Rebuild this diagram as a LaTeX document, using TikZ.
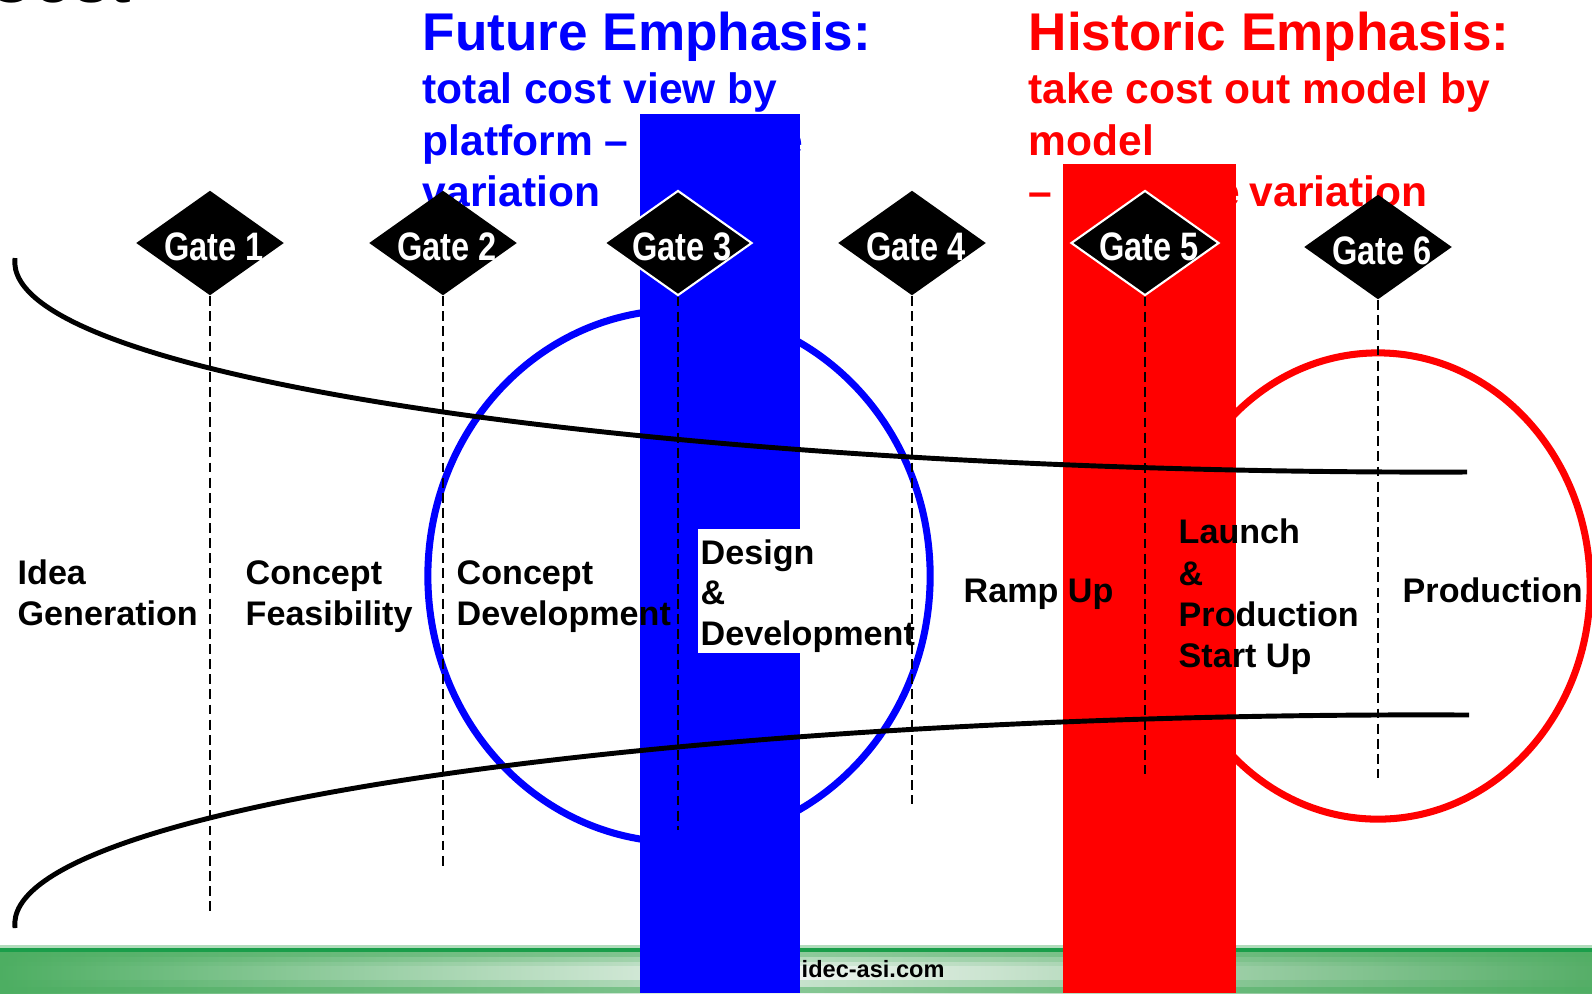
\documentclass[tikz,border=0pt]{standalone}
\usepackage{fontspec}
\setmainfont{Liberation Sans}
\newfontfamily\gatefont[FakeStretch=0.82]{Liberation Sans}
\usetikzlibrary{shapes.geometric}
\definecolor{pblue}{RGB}{0,0,255}
\definecolor{pred}{RGB}{255,0,0}
\definecolor{barA}{HTML}{4DAE62}
\definecolor{barMid}{HTML}{F0F5F1}
\definecolor{barB}{HTML}{56AE68}
\definecolor{barDark}{HTML}{1A9E4A}
\definecolor{barLight}{HTML}{B2DCBC}
\newcommand{\gatetext}[1]{\makebox[0.9cm][c]{\hspace*{2.2pt}#1}}
\begin{document}
\begin{tikzpicture}[x=0.01cm,y=-0.01cm,
  txt/.style={inner sep=0pt, font=\bfseries\fontsize{9.7}{11.6}\selectfont, anchor=base west},
  head/.style={inner sep=0pt, font=\bfseries\fontsize{15.1}{18}\selectfont, anchor=base west},
  sub/.style={inner sep=0pt, font=\bfseries\fontsize{12.1}{14.6}\selectfont, anchor=base west},
  gate/.style={diamond, aspect=1.43, fill=black, inner sep=0pt, minimum width=1.48cm, minimum height=1.05cm,
    text height=10pt, text depth=0pt,
    font=\gatefont\bfseries\fontsize{11.3}{13}\selectfont, text=white},
  gatewhite/.style={gate, draw=white, line width=0.6pt},
  gateline/.style={dash pattern=on 2.8pt off 1.5pt, line width=0.75pt},
  curve/.style={line width=1.4pt},
  band/.style={line width=2pt}
]
\useasboundingbox (0,0) rectangle (1592,993);

% bottom bar
\shade[left color=barA, right color=barB, middle color=barMid] (0,945) rectangle (1592,993);
\fill[barLight] (0,945) rectangle (1592,948);
\fill[barDark] (0,948) rectangle (1592,952);
\fill[barA, opacity=0.6] (0,952) rectangle (1592,957);
\fill[barA, opacity=0.35] (0,957) rectangle (1592,962);
\fill[barA, opacity=0.15] (0,962) rectangle (1592,966);
\fill[barA, opacity=0.25] (0,980) rectangle (1592,987);
\fill[barA, opacity=0.65] (0,987) rectangle (1592,993);

% ellipses
\draw[pblue, band] (679,576) ellipse [x radius=2.51cm, y radius=2.66cm];
\draw[pred, band] (1378,586) ellipse [x radius=2.12cm, y radius=2.33cm];

% header texts
\node[inner sep=0pt, anchor=base west, font=\bfseries\fontsize{18.5}{20}\selectfont] (cost) at (-14,2) {Cost};
\node[head, text=pblue] (fut) at (422,50) {Future Emphasis:};
\node[sub, text=pblue] (f1) at (422,103) {total cost view by};
\node[sub, text=pblue] (f2) at (422,155) {platform –};
\node[sub, text=pblue, anchor=base east] (f2b) at (804,155) {reduce};
\node[sub, text=pblue] (f3) at (422,206) {variation};

\node[head, text=pred] (his) at (1028,50) {Historic Emphasis:};
\node[sub, text=pred] (h1) at (1028,103) {take cost out model by};
\node[sub, text=pred] (h2) at (1028,155) {model};
\node[sub, text=pred] (h3) at (1028,206) {–};
\node[sub, text=pred, anchor=base east] (h3b) at (1241,206) {reduce};
\node[sub, text=pred] (h3c) at (1249,206) {variation};

% emphasis bars
\fill[pblue] (640,114) rectangle (800,993);
\fill[pred] (1063,164) rectangle (1236,993);

\node[inner sep=0pt, anchor=base west, font=\bfseries\fontsize{6.7}{8}\selectfont] (url) at (801,977) {idec-asi.com};

% stage labels
\fill[white] (698,529) rectangle (906,653);
\node[txt] (l1a) at (17,584) {Idea};
\node[txt] (l1b) at (17,625) {Generation};
\node[txt] (l2a) at (245,584) {Concept};
\node[txt] (l2b) at (245,625) {Feasibility};
\node[txt] (l3a) at (456,584) {Concept};
\node[txt] (l3b) at (456,625) {Development};
\node[txt] (l4a) at (700,564) {Design};
\node[txt] (l4b) at (700,604) {\&};
\node[txt] (l4c) at (700,645) {Development};
\node[txt] (l5) at (963,602) {Ramp Up};
\node[txt] (l6a) at (1178,543) {Launch};
\node[txt] (l6b) at (1178,585) {\&};
\node[txt] (l6c) at (1178,626) {Production};
\node[txt] (l6d) at (1178,667) {Start Up};
\node[txt] (l7) at (1402,602) {Production};

% funnel curves
\coordinate (ua) at (15,258);
\coordinate (ub) at (1467,472);
\coordinate (la) at (15,928);
\coordinate (lb) at (1469,715);
\draw[curve] (ua) .. controls (0,382) and (700,475) .. (ub);
\draw[curve] (la) .. controls (0,804) and (700,711) .. (lb);

% gates
\node[gate] (g1) at (210,243) {\gatetext{Gate 1}};
\node[gate] (g2) at (443,243) {\gatetext{Gate 2}};
\node[gatewhite] (g3) at (678,243) {\gatetext{Gate 3}};
\node[gate] (g4) at (912,243) {\gatetext{Gate 4}};
\node[gatewhite] (g5) at (1145,243) {\gatetext{Gate 5}};
\node[gate] (g6) at (1378,247) {\gatetext{Gate 6}};

\coordinate (e1) at (210,911);
\coordinate (e2) at (443,866);
\coordinate (e3) at (678,830);
\coordinate (e4) at (912,804);
\coordinate (e5) at (1145,774);
\coordinate (e6) at (1378,778);
\foreach \g/\e in {g1/e1,g2/e2,g3/e3,g4/e4,g5/e5,g6/e6}
  \draw[gateline] (\g.south) -- (\e);
\end{tikzpicture}
\end{document}
